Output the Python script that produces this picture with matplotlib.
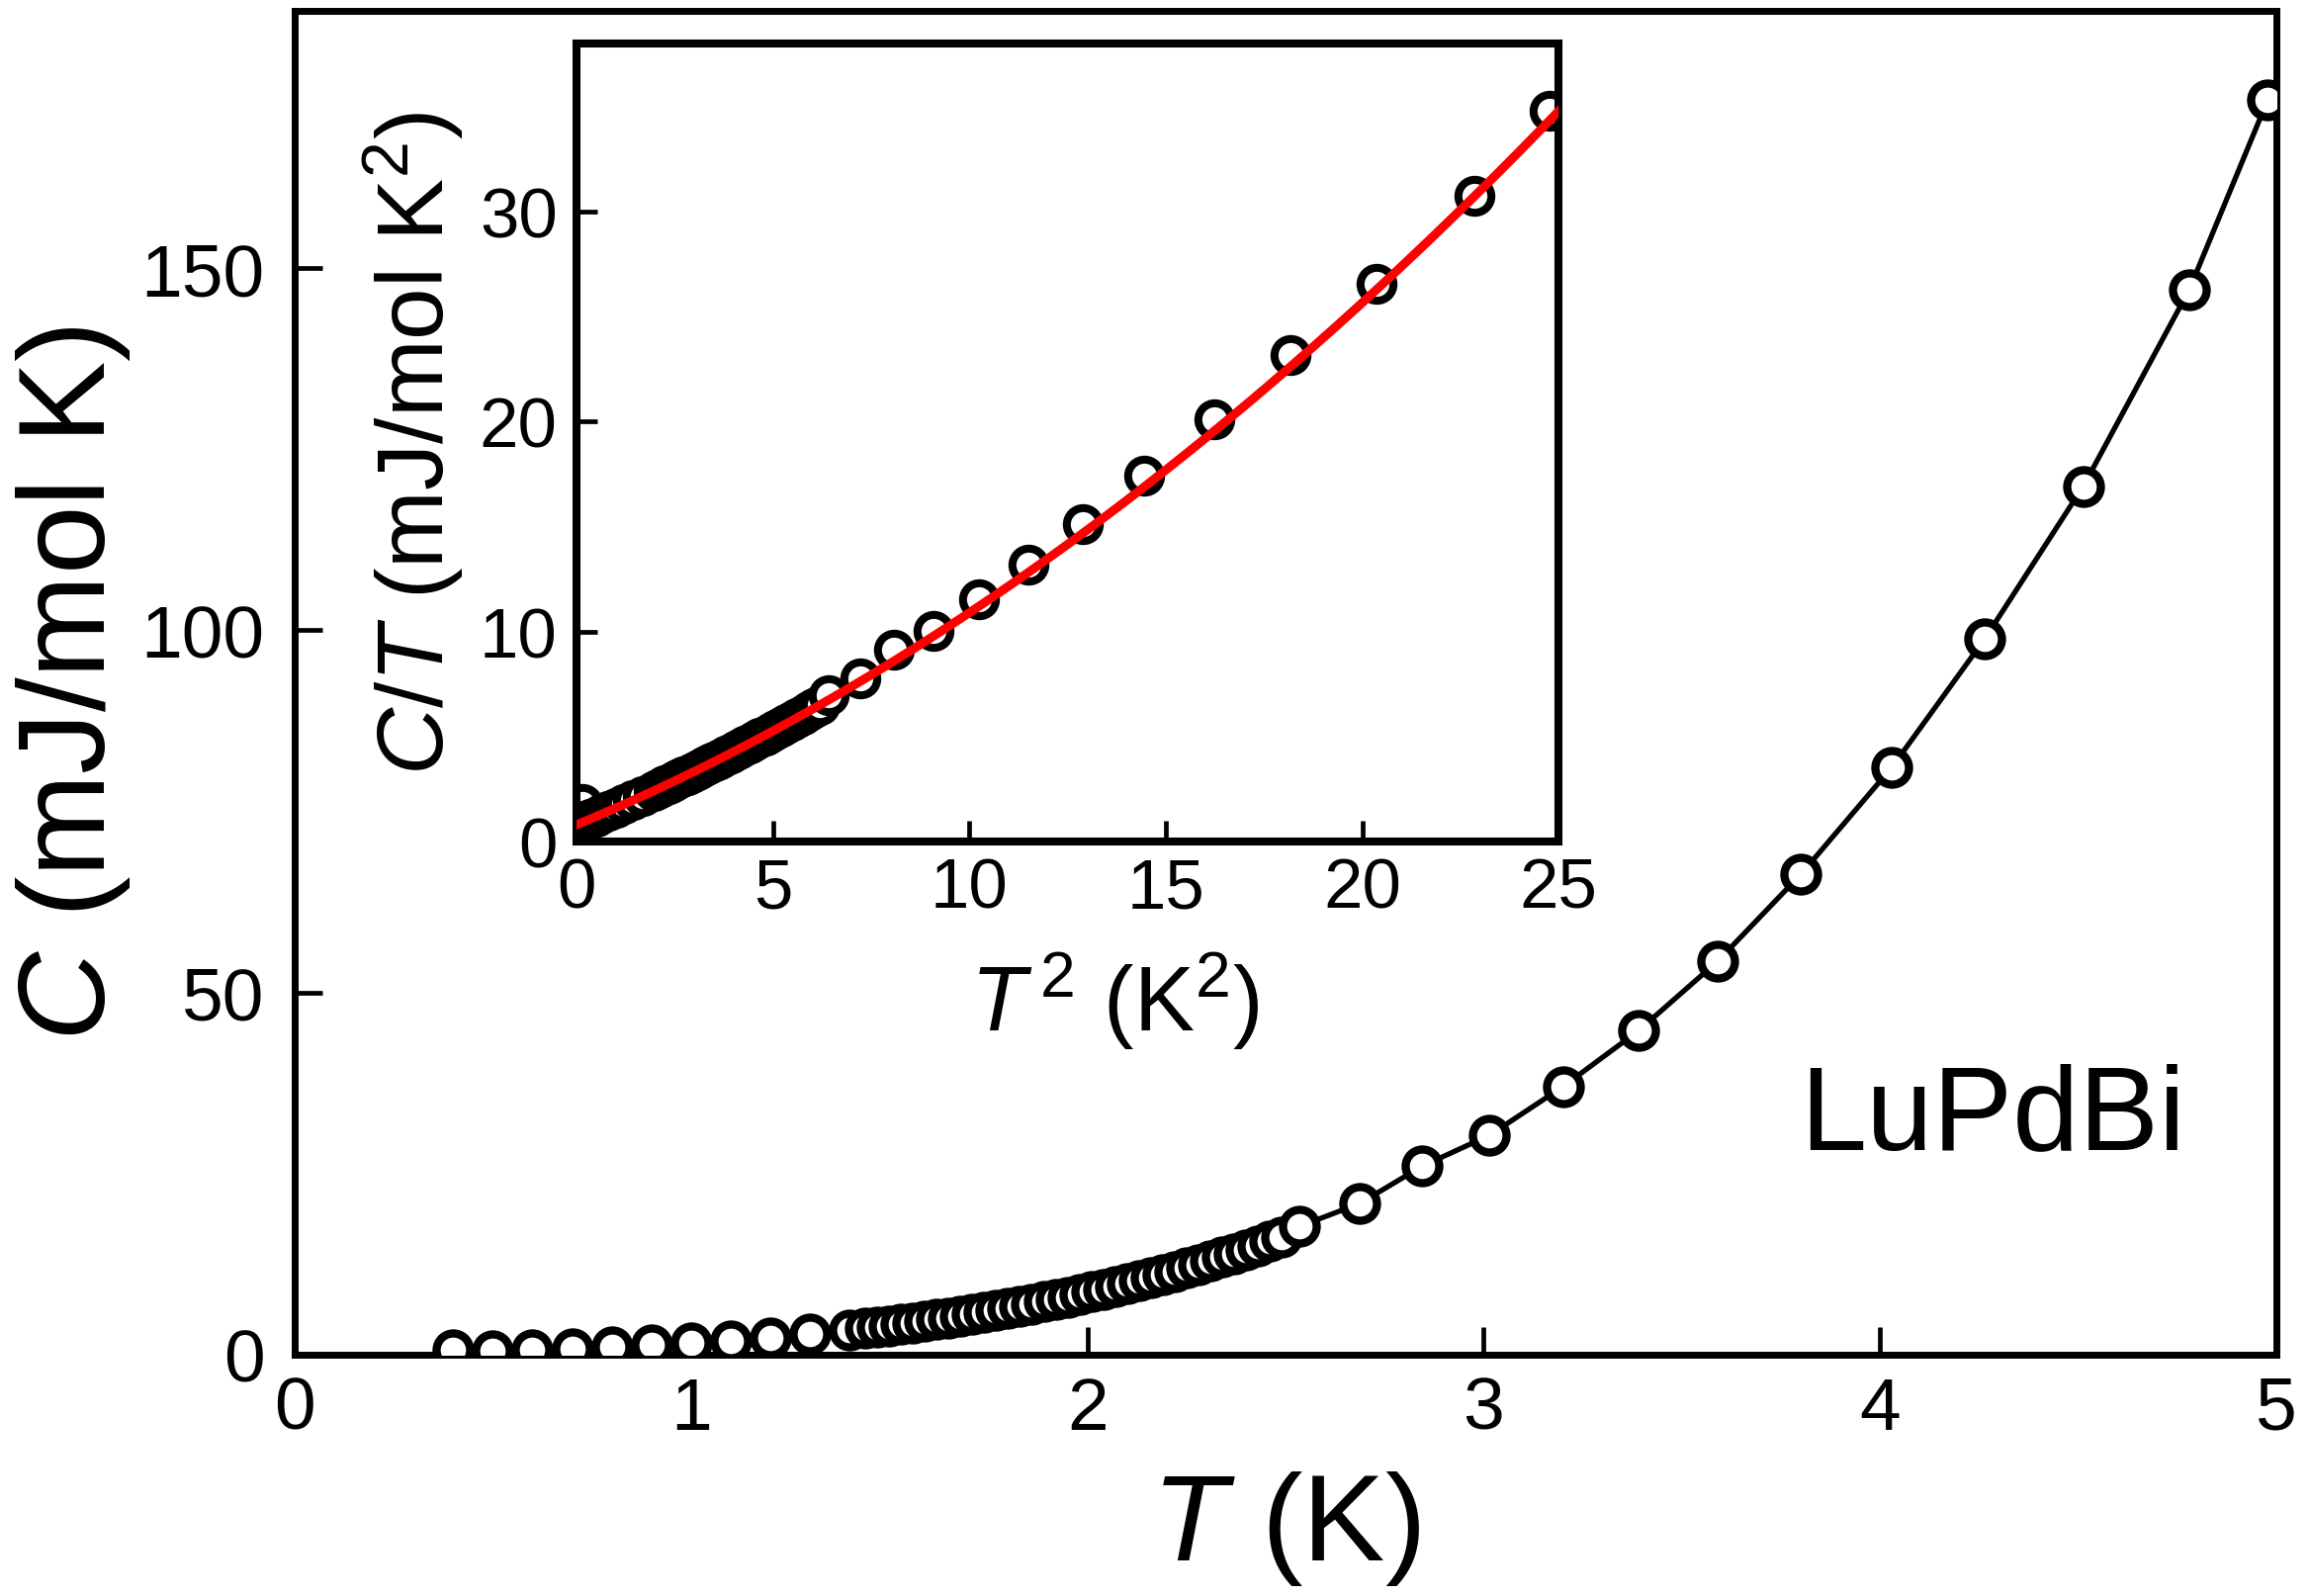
import numpy as np
import matplotlib
matplotlib.use("Agg")
import matplotlib.pyplot as plt

plt.rcParams['font.family'] = ['Liberation Sans', 'DejaVu Sans']
plt.rcParams['mathtext.fontset'] = 'custom'
plt.rcParams['mathtext.rm'] = 'Liberation Sans'
plt.rcParams['mathtext.it'] = 'Liberation Sans:italic'
plt.rcParams['mathtext.bf'] = 'Liberation Sans:bold'

# ---- data ----
T_low = [0.40, 0.50, 0.60, 0.70, 0.80, 0.90, 1.00, 1.10, 1.20, 1.30, 1.40]
C_low = [0.72, 0.50, 0.65, 0.83, 1.05, 1.30, 1.60, 1.95, 2.36, 2.83, 3.38]

T_dense = [1.44, 1.47, 1.50, 1.53, 1.56, 1.59, 1.62, 1.65, 1.68, 1.71,
           1.74, 1.77, 1.80, 1.83, 1.86, 1.89, 1.92, 1.95, 1.98, 2.01,
           2.04, 2.07, 2.10, 2.13, 2.16, 2.19, 2.22, 2.25, 2.28, 2.31,
           2.34, 2.37, 2.40, 2.43, 2.46, 2.49]
C_dense = [3.62, 3.80, 4.00, 4.20, 4.41, 4.63, 4.86, 5.10, 5.34, 5.59,
           5.86, 6.13, 6.41, 6.70, 7.01, 7.32, 7.64, 7.98, 8.32, 8.68,
           9.05, 9.43, 9.83, 10.23, 10.65, 11.09, 11.53, 11.99, 12.47, 12.96,
           13.46, 13.98, 14.52, 15.07, 15.63, 16.22]

T_high = [2.535, 2.688, 2.844, 3.015, 3.20, 3.39, 3.59, 3.80, 4.03, 4.264,
          4.513, 4.78, 4.978]
C_high = [17.7, 20.9, 26.0, 30.3, 37.0, 44.7, 54.3, 66.3, 81.1, 98.8,
          119.9, 147.0, 173.2]

# fit to C/T = gamma + beta*T^2 + delta*T^4 (red line in inset)
fit_gamma = 0.80
fit_beta = 0.777
fit_delta = 0.0233

main_xticks = [0, 1, 2, 3, 4, 5]
main_yticks = [0, 50, 100, 150]
inset_xticks = [0, 5, 10, 15, 20, 25]
inset_yticks = [0, 10, 20, 30]
sample_label = "LuPdBi"

T = np.array(T_low + T_dense + T_high)
C = np.array(C_low + C_dense + C_high)

# ---- figure ----
fig = plt.figure(figsize=(23.35, 16.15), dpi=100)
ax = fig.add_axes([0.1276, 0.1511, 0.9859 - 0.1276, 0.9926 - 0.1511])

ax.plot(T, C, '-', color='black', lw=3.8, zorder=2)
ax.plot(T, C, 'o', ms=24.5, mew=6.0, mec='black', mfc='white', zorder=3,
        linestyle='none')

ax.set_xlim(0, 5)
ax.set_ylim(0, 185.5)
ax.set_xticks(main_xticks)
ax.set_yticks(main_yticks)
ax.tick_params(axis='both', direction='in', length=20, width=3.4,
               labelsize=54, top=False, right=False)
ax.tick_params(axis='x', pad=15)
ax.tick_params(axis='y', pad=22)
for s in ax.spines.values():
    s.set_linewidth(5.0)

ax.set_xlabel(r'$T$ (K)', fontsize=90, labelpad=18)
ax.set_ylabel(r'$C$ (mJ/mol K)', fontsize=90, labelpad=6)

ax.text(0.7595, 0.1537, sample_label, transform=ax.transAxes,
        fontsize=87, ha='left', va='baseline')

# ---- inset ----
ins = fig.add_axes([0.2497, 0.4724, 0.675 - 0.2497, 0.972 - 0.4724])
ins.set_facecolor('white')
x2 = T ** 2
yCT = C / T
ins.plot(x2, yCT, 'o', ms=24.0, mew=5.8, mec='black', mfc='white',
         linestyle='none', zorder=2)
xx = np.linspace(0, 25, 300)
ins.plot(xx, fit_gamma + fit_beta * xx + fit_delta * xx ** 2, '-',
         color='#ff0000', lw=6.5, zorder=3)

ins.set_xlim(0, 25)
ins.set_ylim(0, 38)
ins.set_xticks(inset_xticks)
ins.set_yticks(inset_yticks)
ins.tick_params(axis='both', direction='in', length=15, width=3.4,
                labelsize=51, top=False, right=False)
ins.tick_params(axis='x', pad=11)
ins.tick_params(axis='y', pad=14)
for s in ins.spines.values():
    s.set_linewidth(5.8)

ins.set_xlabel(r'$T^{\,2}$ (K$^{2}$)', fontsize=66)
ins.xaxis.set_label_coords(0.548, -0.135, transform=ins.transAxes)
ins.xaxis.label.set_va('top')
ins.set_ylabel(r'$C/T$ (mJ/mol K$^{2}$)', fontsize=68, labelpad=10)

fig.savefig('out.png', dpi=100)
